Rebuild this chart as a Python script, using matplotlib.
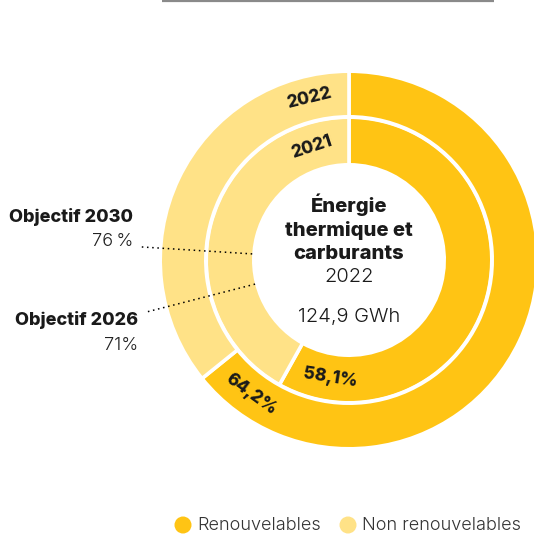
import numpy as np
import matplotlib.pyplot as plt

plt.rcParams['font.family'] = ['Inter', 'DejaVu Sans']

W, H = 534, 539

# share of renewable energy per year (inner ring 2021, outer ring 2022)
annees = ['2021', '2022']
part_renouvelable = [58.1, 64.2]
etiquettes_part = ['58,1%', '64,2%']

# targets shown as dotted lines
objectifs = ['Objectif 2026', 'Objectif 2030']
objectif_pct = [71, 76]
objectif_txt = ['71%', '76\u2009%']

legende = ['Renouvelables', 'Non renouvelables']
couleurs = ['#FFC414', '#FFE287']
encre = '#1a1a1a'
gras = 800
fin = 300

fig = plt.figure(figsize=(W / 100, H / 100), dpi=100)
ax = fig.add_axes([0, 0, 1, 1])

cx, cy = 349, H - 260
lw = 2.6
half = lw * 100 / 72 / 2


def polar(r, pct):
    # pct measured clockwise from 12 o'clock
    a = np.deg2rad(90 - 3.6 * pct)
    return cx + r * np.cos(a), cy + r * np.sin(a)


# rings: (outer visible radius, inner visible radius)
anneaux = {'2021': (141, 97), '2022': (187, 145)}
for annee, part in zip(annees, part_renouvelable):
    r_out, r_in = anneaux[annee]
    ax.pie([part, 100 - part], radius=r_out + half, center=(cx, cy),
           startangle=90, counterclock=False, colors=couleurs,
           wedgeprops=dict(width=r_out - r_in + 2 * half, edgecolor='white', linewidth=lw))

ax.set_xlim(0, W)
ax.set_ylim(0, H)
ax.set_aspect('equal')
ax.axis('off')

# year labels on the non renewable part, value labels on the renewable part
for annee, pos, lab_pos in [('2022', 96.2, 60.0), ('2021', 95.0, 52.5)]:
    r_out, r_in = anneaux[annee]
    rm = (r_out + r_in) / 2
    x, y = polar(rm, pos)
    ax.text(x, y, annee, ha='center', va='center', rotation=-3.6 * pos,
            rotation_mode='anchor', fontsize=12.5, fontweight=gras, color=encre)
    i = annees.index(annee)
    x, y = polar(rm, lab_pos)
    ax.text(x, y, etiquettes_part[i], ha='center', va='center', rotation=180 - 3.6 * lab_pos,
            rotation_mode='anchor', fontsize=12.5, fontweight=gras, color=encre)

# objective markers
for nom, pct, txt, tx, ty in zip(objectifs, objectif_pct, objectif_txt, [138, 133], [320, 217]):
    x0, y0 = polar(97, pct)
    x1, y1 = polar(208, pct)
    ax.plot([x0, x1], [y0, y1], color='black', lw=1.1, linestyle=(0, (1, 2.4)), zorder=5)
    ax.text(tx, H - ty, nom, ha='right', va='center', fontsize=13, fontweight=gras, color=encre)
    ax.text(tx, H - ty - 25, txt, ha='right', va='center', fontsize=13, fontweight=fin, color='#222222')

# center text
for txt, y, poids in [('Énergie', 205, gras), ('thermique et', 231, gras),
                      ('carburants', 254, gras), ('2022', 277, fin),
                      ('124,9 GWh', 317, fin)]:
    ax.text(cx, H - y, txt, ha='center', va='center', fontsize=14.5, fontweight=poids, color=encre)

# legend
for lab, col, xm in zip(legende, couleurs, [183, 348]):
    ax.scatter([xm], [H - 525], s=150, color=col, edgecolor='none', zorder=5)
    ax.text(xm + 14, H - 525, lab, ha='left', va='center', fontsize=13, fontweight=fin, color='#333333')

# rule at the top
ax.plot([162, 494], [H - 1, H - 1], color='#8a8a8a', lw=1.6, solid_capstyle='butt')

fig.savefig('out.png', dpi=100)
